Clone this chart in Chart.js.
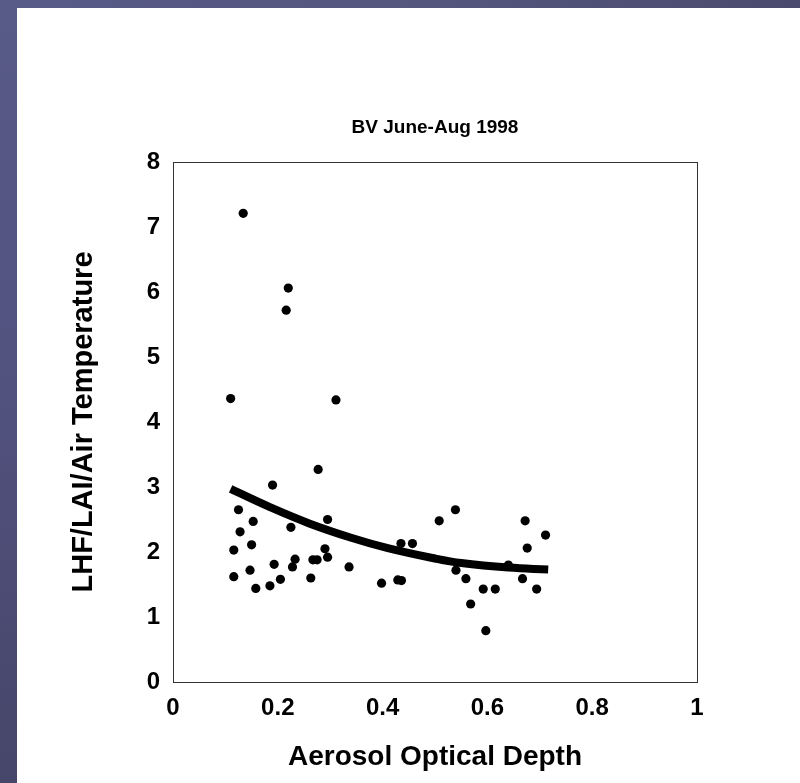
<!DOCTYPE html>
<html>
<head>
<meta charset="utf-8">
<title>BV June-Aug 1998</title>
<script src="https://cdn.jsdelivr.net/npm/chart.js@4"></script>
<style>
  html, body { margin: 0; padding: 0; background: #fff; }
  #frame {
    position: absolute; left: 0; top: 0; width: 800px; height: 783px;
    background: #fff; overflow: hidden;
  }
  /* slide edge strips */
  #stripTop {
    position: absolute; left: 0; top: 0; width: 800px; height: 8px;
    background: linear-gradient(90deg, #585a88 0%, #55577f 50%, #4a4a6e 100%);
  }
  #stripLeft {
    position: absolute; left: 0; top: 0; width: 17px; height: 783px;
    background: linear-gradient(180deg, #585a88 0%, #51527e 50%, #46466a 100%);
  }
  #chartBox { position: absolute; left: 0; top: 0; width: 800px; height: 783px; }
</style>
</head>
<body>
<div id="frame">
  <div id="stripTop"></div>
  <div id="stripLeft"></div>
  <div id="chartBox"><canvas id="aodChart" width="800" height="783"></canvas></div>
</div>
<script>
// Aerosol optical depth vs. LHF/LAI/air temperature, BV station
const aodValues = [
  0.134, 0.220, 0.216, 0.110, 0.311, 0.277, 0.190, 0.125, 0.153, 0.128,
  0.225, 0.295, 0.116, 0.150, 0.147, 0.116, 0.158, 0.185, 0.205, 0.193,
  0.228, 0.233, 0.263, 0.267, 0.275, 0.290, 0.295, 0.336, 0.398, 0.429,
  0.436, 0.435, 0.457, 0.508, 0.539, 0.672, 0.711, 0.676, 0.540, 0.559,
  0.592, 0.615, 0.568, 0.597, 0.667, 0.694, 0.640
];
const lhfValues = [
  7.21, 6.06, 5.72, 4.36, 4.34, 3.27, 3.03, 2.65, 2.47, 2.31,
  2.38, 2.50, 2.03, 2.11, 1.72, 1.62, 1.44, 1.48, 1.58, 1.81,
  1.77, 1.89, 1.60, 1.88, 1.88, 2.05, 1.92, 1.77, 1.52, 1.57,
  1.56, 2.13, 2.13, 2.48, 2.65, 2.48, 2.26, 2.06, 1.72, 1.59,
  1.43, 1.43, 1.20, 0.79, 1.59, 1.43, 1.80
];

// fitted trend curve
const trendAod = [0.11, 0.185, 0.26, 0.34, 0.41, 0.50, 0.55, 0.64, 0.716];
const trendLhf = [2.97, 2.69, 2.44, 2.22, 2.06, 1.90, 1.83, 1.76, 1.73];

const xTicks = [0, 0.2, 0.4, 0.6, 0.8, 1];
const yTicks = [0, 1, 2, 3, 4, 5, 6, 7, 8];

const fontFamily = '"Liberation Sans", Arial, Helvetica, sans-serif';

// plot frame around the chart area
const frameBox = {
  id: 'frameBox',
  afterDraw(chart) {
    const { ctx, chartArea: a } = chart;
    ctx.save();
    ctx.strokeStyle = '#333';
    ctx.lineWidth = 1;
    ctx.strokeRect(Math.round(a.left) + 0.5, Math.round(a.top) + 0.5,
      Math.round(a.right - a.left), Math.round(a.bottom - a.top));
    ctx.restore();
  }
};

new Chart(document.getElementById('aodChart'), {
  type: 'scatter',
  data: {
    datasets: [{
      label: 'Observed',
      data: aodValues.map((x, i) => ({ x, y: lhfValues[i] })),
      backgroundColor: '#000',
      borderWidth: 0,
      pointRadius: 4.6,
      order: 2
    }, {
      label: 'Trend',
      data: trendAod.map((x, i) => ({ x, y: trendLhf[i] })),
      showLine: true,
      borderColor: '#000',
      borderWidth: 8,
      borderCapStyle: 'butt',
      tension: 0.4,
      pointRadius: 0,
      order: 1
    }]
  },
  options: {
    responsive: false,
    animation: false,
    layout: { padding: { top: 0, right: 103, bottom: 0, left: 0 } },
    plugins: {
      legend: { display: false },
      tooltip: { enabled: false },
      title: {
        display: true,
        text: 'BV June-Aug 1998',
        fullSize: false,
        color: '#000',
        font: { family: fontFamily, size: 19, weight: 'bold', lineHeight: 1.2 },
        padding: { top: 116, bottom: 23.2 }
      }
    },
    scales: {
      x: {
        type: 'linear',
        min: 0,
        max: 1,
        afterBuildTicks: s => { s.ticks = xTicks.map(v => ({ value: v })); },
        afterFit: s => { s.height = 101; },
        grid: { display: false, drawTicks: false },
        border: { display: true, color: '#333', width: 1 },
        ticks: {
          color: '#000',
          padding: 12,
          maxRotation: 0,
          callback: v => String(v),
          font: { family: fontFamily, size: 24, weight: 'bold' }
        },
        title: {
          display: true,
          text: 'Aerosol Optical Depth',
          color: '#000',
          font: { family: fontFamily, size: 28, weight: 'bold', lineHeight: 1.2 },
          padding: { top: 0, bottom: 9 }
        }
      },
      y: {
        type: 'linear',
        min: 0,
        max: 8,
        afterBuildTicks: s => { s.ticks = yTicks.map(v => ({ value: v })); },
        afterFit: s => { s.width = 173; },
        grid: { display: false, drawTicks: false },
        border: { display: true, color: '#333', width: 1 },
        ticks: {
          color: '#000',
          padding: 13,
          callback: v => String(v),
          font: { family: fontFamily, size: 24, weight: 'bold' }
        },
        title: {
          display: true,
          text: 'LHF/LAI/Air Temperature',
          color: '#000',
          font: { family: fontFamily, size: 29, weight: 'bold', lineHeight: 1.2 },
          padding: { top: 67, bottom: 0 }
        }
      }
    }
  },
  plugins: [frameBox]
});
</script>
</body>
</html>
